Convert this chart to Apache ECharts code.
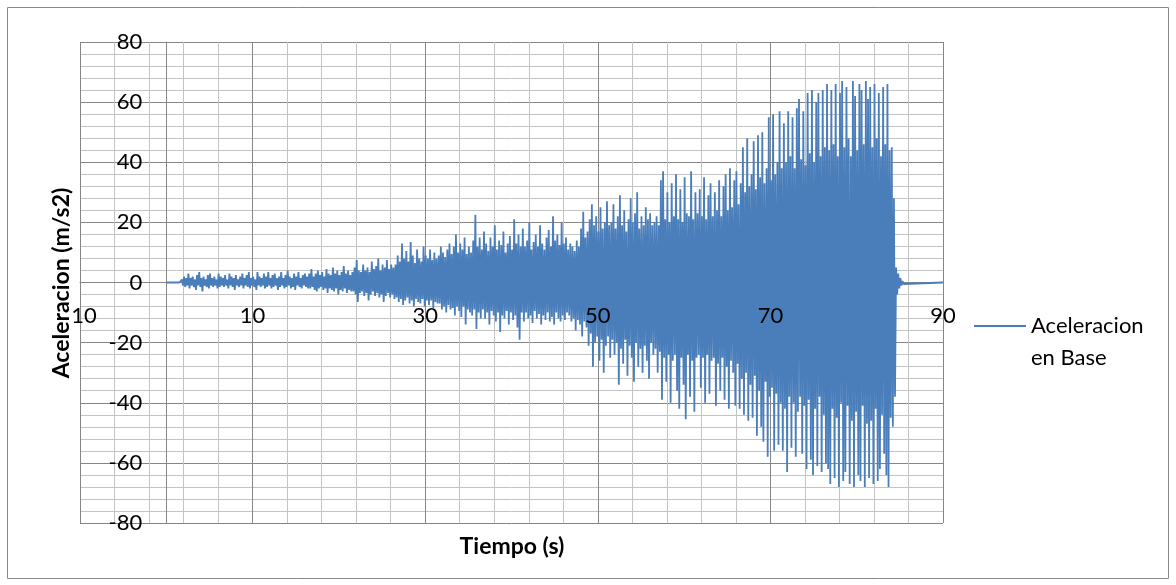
<!DOCTYPE html>
<html>
<head>
<meta charset="utf-8">
<script src="https://cdn.jsdelivr.net/npm/echarts@6/dist/echarts.min.js"></script>
<style>
  html, body { margin: 0; padding: 0; background: #fff; }
  #acel_base { width: 1176px; height: 585px; }
</style>
</head>
<body>
<div id="acel_base"></div>
<script>
// registro de aceleracion en base, leido como picos positivos / negativos
const signalStart = 1.5;   // s, antes de esto el registro es 0
const sampleStep = 0.25;   // s entre picos
const recordEnd = 90;      // s
const xTicks = [-10, 10, 30, 50, 70, 90];
const yTicks = [-80, -60, -40, -20, 0, 20, 40, 60, 80];

const upPeaks = [
  0.5, 1, 2, 1.5, 3, 1.5, 2, 1, 2.5, 3.5, 1.5, 2, 1, 2.5, 3, 1.5, 2, 1, 3, 2,
  1.5, 2.5, 1, 3, 2, 1.5, 2.5, 1, 2, 3, 1.5, 2.5, 3.5, 1.5, 2, 1, 3.5, 2, 1.5, 3,
  2, 3.5, 1.5, 2.5, 3, 1.5, 2, 3.5, 1.5, 2.5, 4, 2, 1.5, 3, 2, 3.5, 1.5, 2.5, 3, 2,
  3, 4.5, 2, 3, 4, 2.5, 3.5, 2, 4.5, 3, 2.5, 5, 3, 4, 2.5, 3.5, 5.5, 3, 4, 2.5,
  3.5, 5, 7.5, 4, 3.5, 6, 4, 5, 3.5, 7, 4.5, 5.5, 8, 4, 6, 5, 7.5, 4.5, 6, 5,
  6, 9, 7, 13, 8, 10.5, 7, 13.5, 9, 6.5, 11, 8, 7, 12, 9, 8, 11, 7.5, 10, 8,
  9, 12, 10, 8.5, 11, 13, 9.5, 12, 16, 10, 13, 11, 15, 9.5, 12, 10, 14, 22.5, 12, 15,
  11, 17, 13, 10.5, 15, 12, 19, 11, 14, 12.5, 17, 10, 13, 15.5, 11, 21, 13, 16, 12, 18,
  12, 14, 20, 11, 13.5, 16, 12, 19, 13, 11, 15, 17.5, 12, 22, 14, 16, 12.5, 20, 13, 15,
  11, 13, 12, 10.5, 14, 12, 18, 23.5, 15, 17, 21, 26, 19, 22, 17, 25, 18, 20, 27, 19,
  20, 26, 18, 22, 29, 19, 24, 17, 21, 28, 20, 23, 30, 18, 22, 19, 25, 21, 23, 19,
  20, 22, 19, 34, 37, 21, 30, 20, 33, 22, 36, 21, 31, 20, 35, 23, 22, 37, 21, 30,
  23, 31, 22, 35, 21, 29, 33, 22, 30, 24, 34, 22, 32, 36, 24, 38, 25, 34, 37, 26,
  33, 45, 30, 48, 32, 36, 47, 31, 49, 35, 50, 33, 38, 55, 34, 56, 36, 40, 57, 38,
  53, 40, 57, 42, 55, 38, 58, 61, 41, 57, 39, 63, 43, 64, 40, 60, 63, 42, 64, 45,
  66, 44, 64, 46, 66, 42, 63, 67, 45, 65, 48, 42, 67, 62, 44, 66, 64, 46, 67, 61,
  65, 45, 66, 48, 63, 42, 65, 46, 66, 44, 45, 28, 5, 3, 1.5, 0.5
];
const downPeaks = [
  -0.5, -1, -1.5, -1, -2, -1, -1.5, -2.5, -1, -1.5, -3, -1, -1.5, -2, -1, -1.5, -1, -2, -1.5, -1,
  -1.5, -1, -2, -1, -1.5, -2.5, -1, -1.5, -1, -2, -1, -1.5, -2, -1, -1.5, -2.5, -1, -1.5, -1, -2,
  -1.5, -1, -2, -1.5, -1, -2.5, -1.5, -1, -2, -1.5, -1, -2, -1.5, -2.5, -1, -1.5, -2, -1, -1.5, -2,
  -2, -1.5, -2.5, -3, -2, -1.5, -2.5, -2, -3.5, -2, -2.5, -3, -2, -4, -2.5, -3, -2, -3.5, -2.5, -3,
  -3, -4, -6.5, -3.5, -3, -4.5, -3.5, -6, -4, -3, -4.5, -3.5, -5, -4, -6.5, -4.5, -3.5, -5, -4, -5.5,
  -5, -6.5, -5.5, -7.5, -6, -5, -7, -6, -8, -5.5, -6.5, -7, -5.5, -8, -6, -7.5, -6, -8.5, -6.5, -7,
  -7, -9, -8, -10, -7.5, -9, -8.5, -11, -8, -9.5, -11.5, -8, -14, -9, -10, -11, -9, -15.5, -10, -12,
  -9, -12, -10, -14, -9.5, -11, -13, -10, -16.5, -11, -12, -9.5, -14, -10, -12.5, -11, -15, -19, -10, -13,
  -10, -12, -11, -13.5, -9.5, -12, -10.5, -14, -11, -12.5, -10, -13, -11.5, -14, -10, -12, -13, -11, -12.5, -10,
  -11, -13, -12, -16, -12.5, -14, -18, -13, -15, -21, -17, -28, -20, -18, -26, -19, -30, -21, -18, -25,
  -19, -24, -20, -34, -22, -27, -19, -31, -21, -25, -33, -20, -28, -22, -30, -21, -26, -32, -20, -24,
  -22, -30, -23, -39, -25, -33, -24, -40, -26, -24, -36, -42, -25, -34, -45.5, -24, -38, -26, -43, -25,
  -24, -35, -25, -40, -24, -37, -26, -25, -41, -27, -36, -25, -39, -28, -42, -26, -30, -41, -27, -42,
  -32, -44, -30, -46, -34, -45, -31, -51, -36, -48, -53, -33, -58, -38, -35, -56, -37, -54, -40, -56,
  -42, -63, -38, -55, -40, -58, -43, -38, -57, -41, -62, -39, -59, -64, -42, -61, -38, -63, -44, -60,
  -62, -67, -42, -65, -45, -68, -40, -66, -63, -41, -67, -46, -68, -43, -64, -66, -41, -68, -47, -65,
  -46, -67, -42, -66, -62, -44, -57, -64, -68, -45, -48, -38, -4, -2, -1, -0.5
];

// serie completa: 0 al inicio, picos alternados, 0 al final
const points = [[0, 0], [signalStart, 0]];
upPeaks.forEach((u, i) => {
  const t = signalStart + i * sampleStep;
  points.push([t + sampleStep / 4, u]);
  points.push([t + sampleStep * 3 / 4, downPeaks[i] ?? 0]);
});
points.push([signalStart + upPeaks.length * sampleStep, 0], [recordEnd, 0]);

const font = "Lato, 'Noto Sans', sans-serif";
const majorColor = "#868686";
const minorColor = "#c3c3c3";

// ejes cruzando en cero: grid 80..943 x 42..523
const plotW = 863, plotH = 481;
const xZeroShift = plotW * (0 - (-10)) / 100;   // px desde el borde izq.
const yZeroShift = plotH * (0 - (-80)) / 160;   // px desde el borde inf.

const xLabel = {
  margin: 22,
  fontSize: 22,
  color: "#000",
  fontFamily: font,
  showMinLabel: true,
  showMaxLabel: true,
  formatter: function(value) {
    return xTicks.indexOf(value) >= 0 ? String(value) : "";
  }
};

let chart = echarts.init(document.getElementById("acel_base"));

chart.setOption({
  animation: false,
  textStyle: { fontFamily: font },
  grid: { left: 80, top: 42, right: 233, bottom: 62 },
  legend: {
    left: 974,
    top: 278,
    padding: 0,
    itemWidth: 52,
    itemHeight: 2,
    icon: "rect",
    data: ["Aceleracion en Base"],
    formatter: function() {
      return " \nAceleracion\nen Base";
    },
    textStyle: {
      fontFamily: font,
      fontSize: 22,
      color: "#000",
      lineHeight: 32
    }
  },
  xAxis: [
    {
      type: "value",
      min: -10,
      max: 90,
      interval: 20,
      offset: -yZeroShift,
      axisLine: { onZero: false, lineStyle: { color: majorColor, width: 1 } },
      axisTick: { show: true, length: 9, lineStyle: { color: majorColor } },
      axisLabel: { show: false },
      splitLine: { show: true, lineStyle: { color: majorColor, width: 1 } },
      minorTick: { show: false, splitNumber: 5 },
      minorSplitLine: { show: true, lineStyle: { color: minorColor, width: 1 } }
    },
    {
      // solo etiquetas, encima de la senal
      type: "value",
      position: "bottom",
      min: -10,
      max: 90,
      interval: 20,
      offset: -yZeroShift,
      z: 10,
      axisLine: { show: false, onZero: false },
      axisTick: { show: false },
      axisLabel: xLabel,
      splitLine: { show: false }
    }
  ],
  yAxis: {
    type: "value",
    min: -80,
    max: 80,
    interval: 20,
    offset: -xZeroShift,
    axisLine: { onZero: false, lineStyle: { color: majorColor, width: 1 } },
    axisTick: { show: true, length: 9, lineStyle: { color: majorColor } },
    axisLabel: {
      margin: 24,
      fontSize: 22,
      color: "#000",
      fontFamily: font,
      showMinLabel: true,
      showMaxLabel: true,
      formatter: function(value) {
        return yTicks.indexOf(value) >= 0 ? String(value) : "";
      }
    },
    splitLine: { show: true, lineStyle: { color: majorColor, width: 1 } },
    minorTick: { show: false, splitNumber: 5 },
    minorSplitLine: { show: true, lineStyle: { color: minorColor, width: 1 } }
  },
  graphic: [
    {
      type: "rect",
      z: 100,
      silent: true,
      shape: { x: 7.5, y: 7.5, width: 1161, height: 571 },
      style: { fill: "none", stroke: "#898989", lineWidth: 1 }
    },
    {
      type: "text",
      z: 100,
      x: 512,
      y: 547,
      style: {
        text: "Tiempo (s)",
        font: "bold 23px " + font,
        fill: "#000",
        align: "center",
        verticalAlign: "middle"
      }
    },
    {
      type: "text",
      z: 100,
      x: 62,
      y: 283,
      rotation: Math.PI / 2,
      style: {
        text: "Aceleracion (m/s2)",
        font: "bold 23px " + font,
        fill: "#000",
        align: "center",
        verticalAlign: "middle",
        lineHeight: 20,
        backgroundColor: "#fff"
      }
    }
  ],
  series: [
    {
      name: "Aceleracion en Base",
      type: "line",
      xAxisIndex: 0,
      data: points,
      showSymbol: false,
      symbol: "none",
      sampling: "none",
      silent: true,
      lineStyle: { color: "#4a7ebb", width: 1.8 },
      itemStyle: { color: "#4a7ebb" }
    }
  ]
});
</script>
</body>
</html>
